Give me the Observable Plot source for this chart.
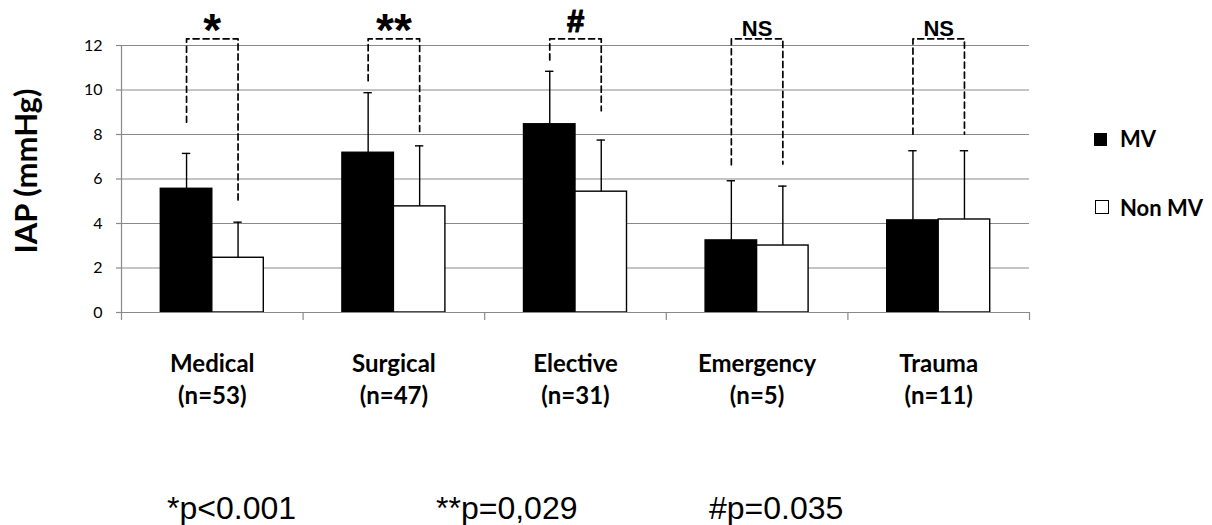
<!DOCTYPE html>
<html>
<head>
<meta charset="utf-8">
<script src="https://cdn.jsdelivr.net/npm/d3@7"></script>
<script src="https://cdn.jsdelivr.net/npm/@observablehq/plot@0.6"></script>
<style>
  body { margin: 0; background: #fff; }
  #wrap { position: relative; width: 1212px; height: 525px; overflow: hidden; background: #fff; }
  #wrap svg { position: absolute; left: 0; top: 0; display: block; }
  .leg { position: absolute; font-family: Lato, sans-serif; font-weight: bold; font-size: 22px; line-height: 1; color: #000; white-space: nowrap; }
  .sw { position: absolute; box-sizing: border-box; }
  .foot { position: absolute; font-family: "Liberation Sans", Arial, sans-serif; font-size: 32px; line-height: 1; color: #000; white-space: nowrap; }
</style>
</head>
<body>
<div id="wrap"></div>
<script>
// ---- data ----
const categories = ["Medical", "Surgical", "Elective", "Emergency", "Trauma"];
const sampleSizes = ["(n=53)", "(n=47)", "(n=31)", "(n=5)", "(n=11)"];
const series = ["MV", "Non MV"];
const mvMean = [5.56, 7.18, 8.46, 3.24, 4.14];
const mvSD = [1.59, 2.70, 2.38, 2.68, 3.13];
const nonMvMean = [2.46, 4.77, 5.43, 3.01, 4.18];
const nonMvSD = [1.60, 2.72, 2.32, 2.67, 3.09];
const mvBracketFrom = [8.55, 10.42, 11.35, 6.64, 8.02];
const nonMvBracketFrom = [4.9, 8.05, 9.07, 6.67, 8.02];
const bracketTop = 12.3;
const significance = ["*", "**", "#", "NS", "NS"];
const yTicks = [0, 2, 4, 6, 8, 10, 12];
const yTitle = "IAP (mmHg)";
const footnotes = ["*p<0.001", "**p=0,029", "#p=0.035"];

// ---- layout / style constants ----
const GRAY = "#898989";
const ARIAL = "'Liberation Sans', Arial, sans-serif";
const BAR = 0.2836;   // bar width in category units
const CAP = 0.023;    // half width of error-bar caps in category units

const rows = categories.flatMap((c, i) => [
  {cat: c, i, s: series[0], mean: mvMean[i], sd: mvSD[i], x1: i - BAR, x2: i, xc: i - BAR / 2},
  {cat: c, i, s: series[1], mean: nonMvMean[i], sd: nonMvSD[i], x1: i, x2: i + BAR, xc: i + BAR / 2}
]);
const brackets = categories.flatMap((c, i) => [
  {cat: c, x: i - BAR / 2, y: mvBracketFrom[i]},
  {cat: c, x: i - BAR / 2, y: bracketTop},
  {cat: c, x: i + BAR / 2, y: bracketTop},
  {cat: c, x: i + BAR / 2, y: nonMvBracketFrom[i]}
]);
const sig = categories.map((c, i) => ({i, label: significance[i]}));
const catIdx = categories.map((c, i) => i);
const boundaries = d3.range(-0.5, categories.length, 1);

const chart = Plot.plot({
  width: 1212,
  height: 410,
  marginLeft: 121,
  marginRight: 183,
  marginTop: 45,
  marginBottom: 98,
  style: {fontFamily: "Lato, sans-serif", background: "transparent", overflow: "visible"},
  x: {domain: [-0.5, categories.length - 0.5], label: null},
  y: {domain: [0, 12], label: null},
  color: {domain: series, range: ["#000", "#fff"]},
  marks: [
    Plot.gridY({ticks: yTicks, stroke: GRAY, strokeOpacity: 1, strokeWidth: 1.2}),
    Plot.rect(rows, {x1: "x1", x2: "x2", y1: 0, y2: "mean", fill: "s", stroke: "#000", strokeWidth: 1.4}),
    Plot.ruleX(rows, {x: "xc", y1: "mean", y2: d => d.mean + d.sd, stroke: "#000", strokeWidth: 1.4}),
    Plot.ruleY(rows, {y: d => d.mean + d.sd, x1: d => d.xc - CAP, x2: d => d.xc + CAP, stroke: "#000", strokeWidth: 1.4}),
    Plot.line(brackets, {x: "x", y: "y", z: "cat", stroke: "#000", strokeWidth: 1.7, strokeDasharray: "6,4"}),
    Plot.ruleY([0], {stroke: GRAY, strokeWidth: 1.2}),
    Plot.ruleX([-0.5], {y1: 0, y2: 12, stroke: GRAY, strokeWidth: 1.2}),
    Plot.axisX({ticks: boundaries, tickSize: 8, tickFormat: () => "", stroke: GRAY, strokeWidth: 1.2, label: null}),
    Plot.axisX({ticks: catIdx, tickSize: 0, tickPadding: 37, tickFormat: i => categories[i] + "\n" + sampleSizes[i],
      fontSize: 24, fontWeight: "bold", lineHeight: 1.32, fill: "#000", label: null}),
    Plot.axisY({ticks: yTicks, tickSize: 5, tickPadding: 14, stroke: GRAY, strokeWidth: 1.2, fill: "#000", fontSize: 16, label: null}),
    Plot.text(sig.filter(d => d.label.startsWith("*")), {x: "i", y: () => bracketTop, text: "label", dy: -8,
      fontFamily: ARIAL, fontWeight: "bold", fontSize: 46, fill: "#000"}),
    Plot.text(sig.filter(d => d.label === "#"), {x: "i", y: () => bracketTop, text: "label", dy: -17,
      fontFamily: ARIAL, fontWeight: "bold", fontSize: 31, fill: "#000", stroke: "#000", strokeWidth: 1.2}),
    Plot.text(sig.filter(d => d.label === "NS"), {x: "i", y: () => bracketTop, text: "label", dy: -10,
      fontFamily: ARIAL, fontWeight: "bold", fontSize: 22, fill: "#000"}),
    Plot.text([yTitle], {frameAnchor: "left", text: d => d, textAnchor: "middle", dx: -94, dy: -8, rotate: -90,
      fontSize: 31, fontWeight: "bold", fill: "#000"})
  ]
});

const wrap = document.getElementById("wrap");
wrap.appendChild(chart);

// legend
const legendItems = [
  {label: series[0], sw: {left: 1094, top: 133, w: 13, h: 13, bg: "#000", border: "none"}, top: 127.5},
  {label: series[1], sw: {left: 1095, top: 200, w: 14, h: 14, bg: "#fff", border: "1.5px solid #000"}, top: 197}
];
for (const it of legendItems) {
  const s = document.createElement("div");
  s.className = "sw";
  Object.assign(s.style, {left: it.sw.left + "px", top: it.sw.top + "px", width: it.sw.w + "px", height: it.sw.h + "px", background: it.sw.bg, border: it.sw.border});
  wrap.appendChild(s);
  const t = document.createElement("div");
  t.className = "leg";
  t.textContent = it.label;
  Object.assign(t.style, {left: "1120px", top: it.top + "px"});
  wrap.appendChild(t);
}

// footnotes
const footLeft = [167, 436, 709];
footnotes.forEach((f, k) => {
  const d = document.createElement("div");
  d.className = "foot";
  d.textContent = f;
  Object.assign(d.style, {left: footLeft[k] + "px", top: "492px"});
  wrap.appendChild(d);
});
</script>
</body>
</html>
